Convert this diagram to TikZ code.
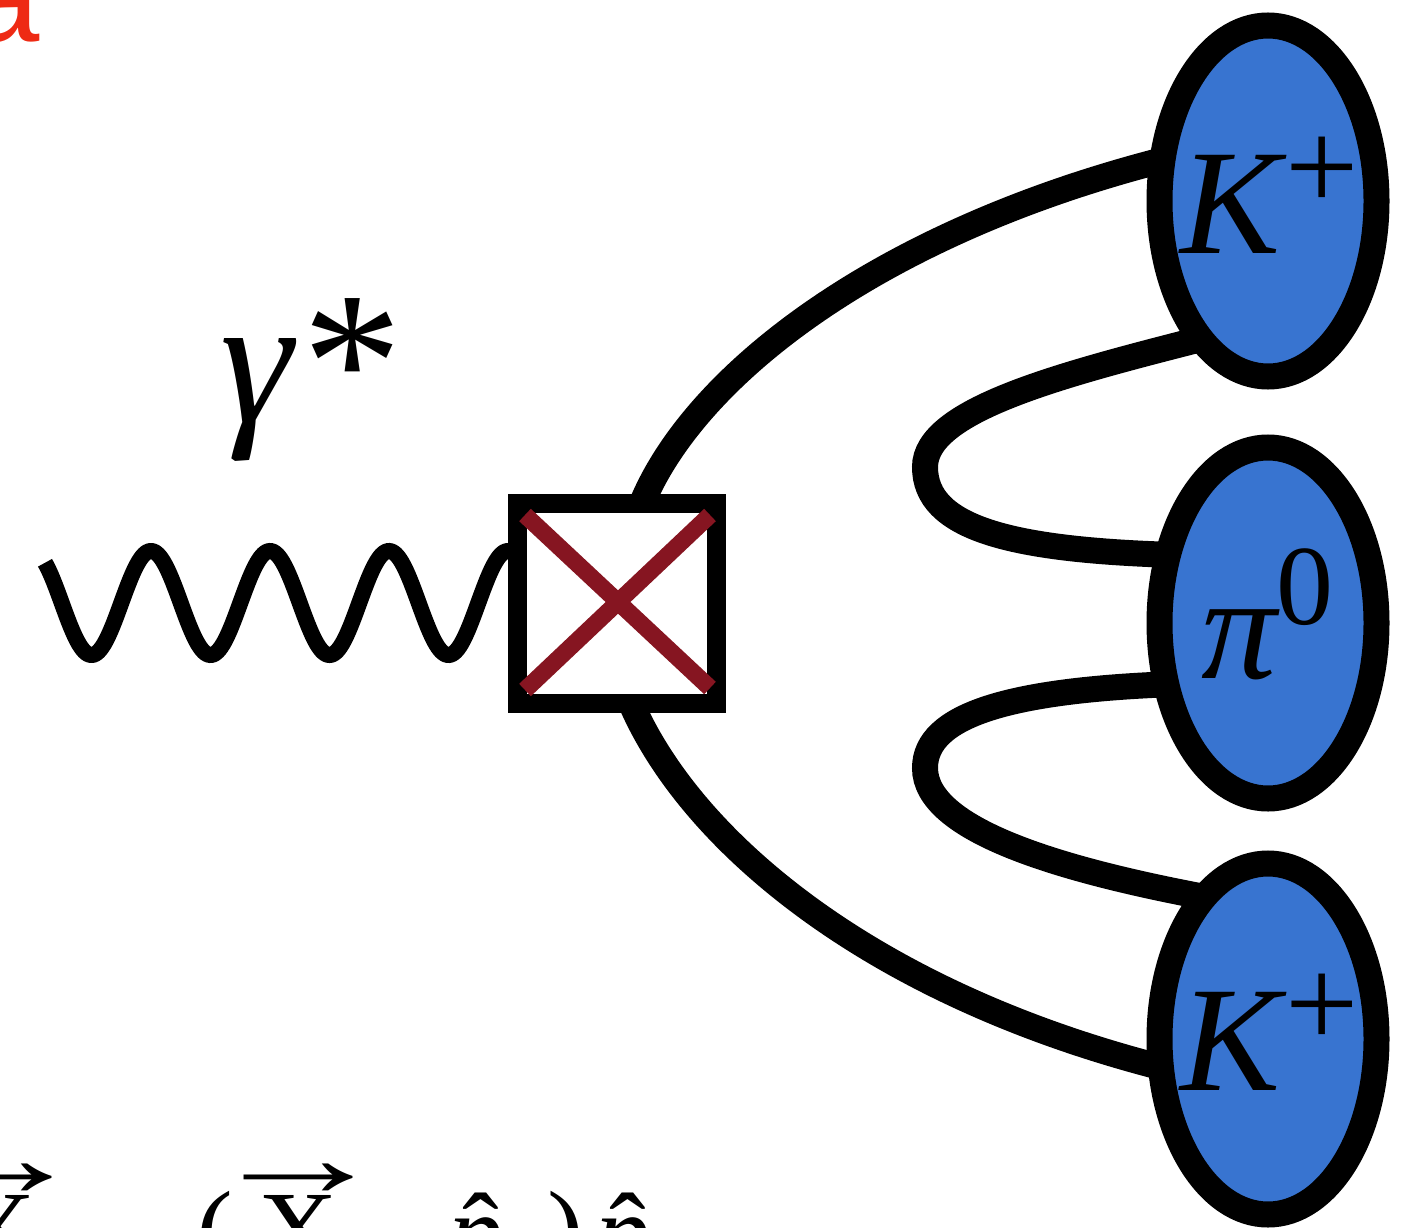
\documentclass[tikz,border=0pt]{standalone}
\usepackage{fontspec}
\setmainfont{Liberation Serif}
\setsansfont{Liberation Sans}
\usetikzlibrary{shapes.geometric,calc}
\definecolor{pblue}{RGB}{56,116,208}
\definecolor{xred}{RGB}{134,21,33}
\definecolor{ared}{RGB}{238,42,20}
\newcommand{\vecarrow}{\scalebox{1.6}[1]{→}}
\begin{document}
\begin{tikzpicture}[x=1pt,y=-1pt,
  particle/.style={ellipse, draw=black, line width=26pt, fill=pblue, minimum width=217pt, minimum height=351pt, inner sep=0pt},
  vertex/.style={rectangle, draw=black, line width=19pt, fill=white, minimum width=199pt, minimum height=200pt, inner sep=0pt},
  leg/.style={line width=26pt, draw=black},
  photon/.style={line width=16pt, draw=black},
  xcross/.style={line width=17pt, draw=xred},
  lab/.style={inner sep=0pt, outer sep=0pt},
  big/.style={lab, anchor=base west, font=\fontsize{150}{150}\selectfont},
  fml/.style={lab, anchor=base, font=\fontsize{110}{110}\selectfont},
  arr/.style={lab, anchor=base, font=\fontsize{115}{115}\selectfont},
]
\useasboundingbox (0,0) rectangle (1413,1228);
\clip (0,0) rectangle (1413,1228);

% photon line
\draw[photon] plot[domain=45:515, samples=300] (\x, {603-52*cos(3.02521*(\x-32))});

% invisible placement of vertex and particles (for anchors)
\path (616.5,603) node[vertex, draw=none, fill=none] (box) {};
\path (1268,201) node[particle, draw=none, fill=none] (k1) {};
\path (1268,623) node[particle, draw=none, fill=none] (p0) {};
\path (1268,1039) node[particle, draw=none, fill=none] (k2) {};

% legs
\draw[leg] ($(box.75)+(-4,10)$) .. controls (695,375) and (880,230) .. ($(k1.center)+(-93,-44)$);
\draw[leg] ($(k1.center)+(-63,137)$) .. controls (1060,375) and (925,410) .. (925,467)
           .. controls (925,528) and (1010,550) .. ($(p0.center)+(-93,-68)$);
\draw[leg] ($(p0.center)+(-93,61)$) .. controls (1010,690) and (925,715) .. (925,768)
           .. controls (925,830) and (1060,870) .. ($(k2.center)+(-58,-141)$);
\draw[leg] ($(box.-81)+(-3,-10)$) .. controls (690,840) and (870,995) .. ($(k2.center)+(-96,31)$);

% vertex box with cross
\node[vertex] (boxd) at (box.center) {};
\coordinate (xa) at (525,515);
\coordinate (xb) at (710,688);
\coordinate (xc) at (710,515);
\coordinate (xd) at (525,690);
\draw[xcross] (xa) -- (xb);
\draw[xcross] (xc) -- (xd);

% particles
\node[particle] (k1d) at (k1.center) {};
\node[particle] (p0d) at (p0.center) {};
\node[particle] (k2d) at (k2.center) {};

% labels
\node[big] (k1l) at (1180,253) {\itshape K\upshape\hspace{5pt}\raisebox{43pt}{\fontsize{130}{130}\selectfont +}};
\node[big] (p0l) at (1201,678) {\itshape π\upshape\raisebox{54pt}{\fontsize{114}{114}\selectfont 0}};
\node[big] (k2l) at (1180,1090) {\itshape K\upshape\hspace{5pt}\raisebox{43pt}{\fontsize{130}{130}\selectfont +}};
\node[lab, anchor=base west, font=\fontsize{183}{183}\selectfont] (gam) at (220,422) {\itshape γ\upshape\hspace{10pt}\raisebox{-7pt}{\fontsize{200}{200}\selectfont *}};

% panel letter
\node[lab, anchor=base east, text=ared, font=\fontsize{130}{130}\sffamily] (panel) at (40,42) {a};

% formula (cut by the bottom edge)
\node[fml] (fx1) at (-4,1267) {X};
\node[arr] (fa1) at (-2.5,1196) {\vecarrow};
\node[fml] (flp) at (215,1267) {(};
\node[fml] (fx2) at (298,1267) {X};
\node[arr] (fa2) at (298.5,1196) {\vecarrow};
\node[fml] (fp1) at (476,1269) {\itshape p};
\node[fml] (fh1) at (481,1269) {ˆ};
\node[fml] (frp) at (565.5,1267) {)};
\node[fml] (fp2) at (623,1269) {\itshape p};
\node[fml] (fh2) at (628,1269) {ˆ};
\end{tikzpicture}
\end{document}
